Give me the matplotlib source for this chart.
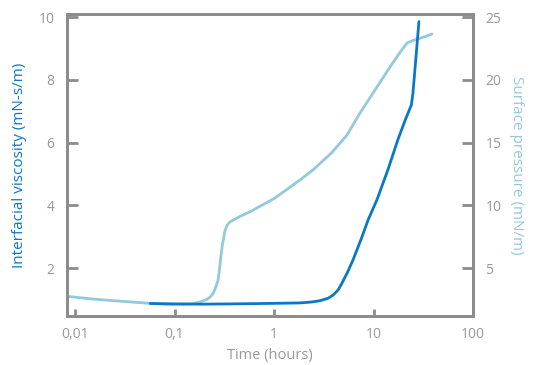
import matplotlib.pyplot as plt
from matplotlib.ticker import FixedLocator, NullLocator

# interfacial viscosity (left axis)
visc_time = [0.057, 0.1, 0.18, 0.4, 0.72, 1.2, 1.82, 2.4, 2.9, 3.5, 3.92, 4.4, 4.82,
             5.5, 6.22, 7.5, 8.81, 10.8, 14.0, 17.6, 21.0, 24.0, 24.9, 26.5, 28.6]
visc_value = [0.87, 0.86, 0.85, 0.86, 0.87, 0.88, 0.89, 0.92, 0.96, 1.04, 1.14, 1.30, 1.52,
              1.88, 2.26, 2.92, 3.53, 4.17, 5.15, 6.10, 6.75, 7.20, 7.58, 8.60, 9.86]

# surface pressure (right axis)
pres_time = [0.0083, 0.0152, 0.03, 0.0568, 0.0966, 0.15, 0.18, 0.21, 0.228, 0.245, 0.255,
             0.265, 0.274, 0.286, 0.300, 0.322, 0.34, 0.361, 0.45, 0.574, 1.02, 1.82,
             2.46, 3.8, 5.42, 7.31, 10.35, 14.65, 18.5, 21.7, 25.0, 28.0, 33.0, 38.7]
pres_value = [2.75, 2.53, 2.35, 2.19, 2.10, 2.15, 2.30, 2.50, 2.69, 3.00, 3.33,
              3.70, 4.04, 5.24, 6.67, 8.03, 8.45, 8.69, 9.10, 9.49, 10.58, 12.02,
              12.82, 14.2, 15.61, 17.36, 19.19, 21.03, 22.2, 22.94, 23.15, 23.26, 23.45, 23.66]

x_ticks = [0.01, 0.1, 1, 10, 100]
x_labels = ['0,01', '0,1', '1', '10', '100']
left_ticks = [2, 4, 6, 8, 10]
right_ticks = [5, 10, 15, 20, 25]

dark = '#0a78c6'
light = '#93cadb'
grey = '#8c8c8c'
tick_grey = '#999999'

plt.rcParams['font.family'] = ['Open Sans', 'DejaVu Sans']

fig = plt.figure(figsize=(5.36, 3.65), dpi=100)
ax1 = fig.add_axes([0.125, 0.134, 0.7575, 0.8276])
ax2 = ax1.twinx()

ax2.plot(pres_time, pres_value, color=light, lw=2.0, solid_capstyle='round')
ax1.plot(visc_time, visc_value, color=dark, lw=2.0, solid_capstyle='round')
ax1.set_zorder(ax2.get_zorder() + 1)
ax1.patch.set_visible(False)

ax1.set_xscale('log')
ax1.set_xlim(0.0083, 100)
ax1.set_ylim(0.47, 10.1)
ax2.set_ylim(0.47 * 2.5, 10.1 * 2.5)

ax1.xaxis.set_major_locator(FixedLocator(x_ticks))
ax1.xaxis.set_minor_locator(NullLocator())
ax1.set_xticklabels(x_labels)
ax1.set_yticks(left_ticks)
ax2.set_yticks(right_ticks)

for ax in (ax1, ax2):
    for s in ax.spines.values():
        s.set_color(grey)
        s.set_linewidth(2.0)
    ax.tick_params(colors=grey, labelsize=10, width=2.0)
ax1.tick_params(axis='y', direction='in', length=8, pad=9, labelcolor=tick_grey)
ax2.tick_params(axis='y', direction='in', length=8, pad=9, labelcolor=tick_grey)
ax1.tick_params(axis='x', direction='in', length=5, pad=8, labelcolor=tick_grey)

ax1.set_xlabel('Time (hours)', color=tick_grey, fontsize=10.5, labelpad=4)
ax1.set_ylabel('Interfacial viscosity (mN-s/m)', color=dark, fontsize=11, labelpad=8)
ax2.set_ylabel('Surface pressure (mN/m)', color=light, fontsize=11, rotation=270, labelpad=16)

fig.savefig('out.png', dpi=100)
